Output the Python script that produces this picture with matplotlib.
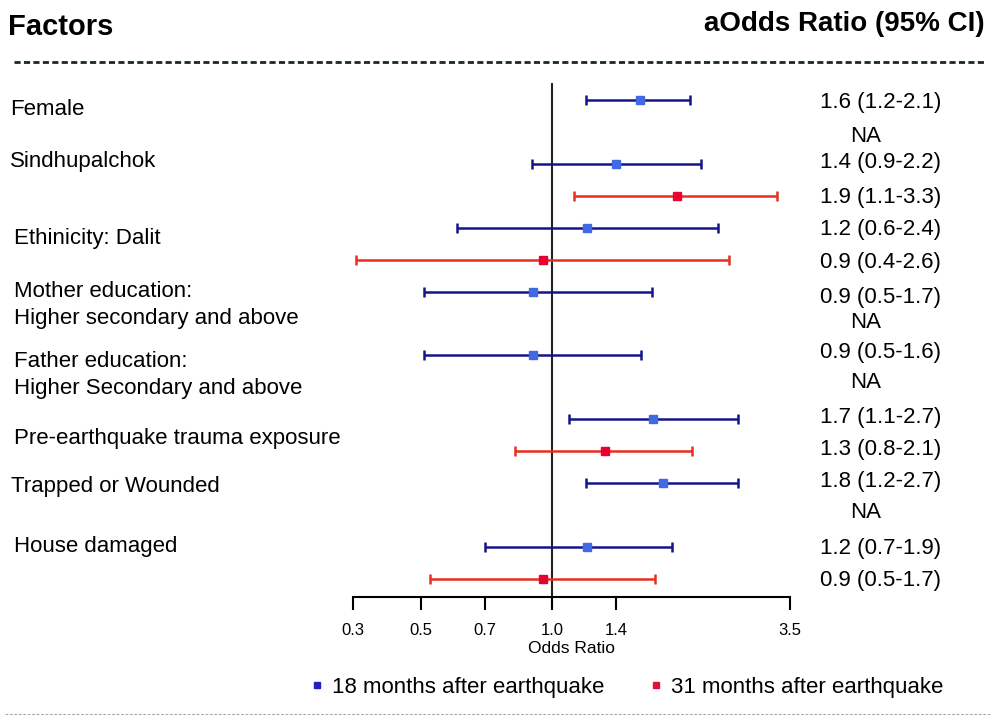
import numpy as np
import matplotlib.pyplot as plt
from matplotlib.lines import Line2D
from matplotlib.transforms import blended_transform_factory

plt.rcParams["font.family"] = ["Liberation Sans", "DejaVu Sans"]

# rows of the forest plot (18 months / 31 months after earthquake)
factors = ["Female", "Sindhupalchok", "Ethinicity: Dalit",
           "Mother education:\nHigher secondary and above",
           "Father education:\nHigher Secondary and above",
           "Pre-earthquake trauma exposure", "Trapped or Wounded", "House damaged"]

or_18 = [1.59, 1.40, 1.20, 0.905, 0.905, 1.70, 1.79, 1.20]
lo_18 = [1.195, 0.90, 0.605, 0.51, 0.51, 1.09, 1.195, 0.70]
hi_18 = [2.07, 2.19, 2.39, 1.69, 1.60, 2.66, 2.66, 1.88]

or_31 = [None, 1.93, 0.95, None, None, 1.32, None, 0.95]
lo_31 = [None, 1.12, 0.355, None, None, 0.82, None, 0.525]
hi_31 = [None, 3.27, 2.54, None, None, 2.09, None, 1.72]

ci_text = ["1.6 (1.2-2.1)", "NA", "1.4 (0.9-2.2)", "1.9 (1.1-3.3)",
           "1.2 (0.6-2.4)", "0.9 (0.4-2.6)", "0.9 (0.5-1.7)", "NA",
           "0.9 (0.5-1.6)", "NA", "1.7 (1.1-2.7)", "1.3 (0.8-2.1)",
           "1.8 (1.2-2.7)", "NA", "1.2 (0.7-1.9)", "0.9 (0.5-1.7)"]

x_ticks = [0.35, 0.5, 0.7, 1.0, 1.4, 3.5]

# layout (pixels of the 995x716 canvas)
W, H = 995, 716
factor_y = [0.30, 1.93, 4.33, 6.43, 8.6, 10.59, 12.1, 13.97]
factor_x = [10, 10, 14, 14, 14, 14, 11, 14]
ci_y = [0.08, 1.14, 1.96, 3.06, 4.06, 5.08, 6.18, 6.98, 7.91, 8.85, 9.95, 10.95,
        11.95, 12.92, 14.05, 15.05]

BLUE_LINE, BLUE_PT = "#15158a", "#4169e1"
RED_LINE, RED_PT = "#e8301e", "#e8002e"

fig = plt.figure(figsize=(W / 100, H / 100), dpi=100)
left, right, top, bottom = 353, 790, 83, 597
ax = fig.add_axes([left / W, (H - bottom) / H, (right - left) / W, (bottom - top) / H])

ax.set_xscale("log")
ax.set_xlim(0.35, 3.5)
ax.set_ylim(15.565, -0.532)

for i in range(len(factors)):
    y = 2 * i
    ax.errorbar(or_18[i], y, xerr=[[or_18[i] - lo_18[i]], [hi_18[i] - or_18[i]]],
                fmt="none", ecolor=BLUE_LINE, elinewidth=1.8, capsize=3.4, capthick=1.8)
    ax.plot(or_18[i], y, "s", color=BLUE_PT, ms=6.2, zorder=4)
    if or_31[i] is not None:
        ax.errorbar(or_31[i], y + 1, xerr=[[or_31[i] - lo_31[i]], [hi_31[i] - or_31[i]]],
                    fmt="none", ecolor=RED_LINE, elinewidth=1.8, capsize=3.4, capthick=1.8)
        ax.plot(or_31[i], y + 1, "s", color=RED_PT, ms=6.2, zorder=4)

ax.axvline(1.0, color="#222222", lw=1.5, zorder=1)

for s in ["top", "right", "left"]:
    ax.spines[s].set_visible(False)
ax.spines["bottom"].set_linewidth(1.5)
ax.set_yticks([])
ax.set_xticks(x_ticks)
ax.xaxis.set_minor_locator(plt.NullLocator())
ax.xaxis.set_major_formatter(plt.FuncFormatter(lambda v, p: "%.1f" % v))
ax.tick_params(axis="x", direction="out", length=9, width=1.5, pad=10, labelsize=12)
ax.set_xlabel("Odds Ratio", fontsize=12.5, labelpad=2)

trans = blended_transform_factory(fig.transFigure, ax.transData)
for name, y, x in zip(factors, factor_y, factor_x):
    ax.text(x / W, y, name, transform=trans, fontsize=16, va="center", ha="left",
            linespacing=1.38)

for txt, y in zip(ci_text, ci_y):
    x = 850 if txt == "NA" else 820
    ax.text(x / W, y, txt, transform=trans, fontsize=16, va="center", ha="left")

fig.text(8 / W, 1 - 27 / H, "Factors", fontsize=21, fontweight="bold", va="center")
fig.text(985 / W, 1 - 24 / H, "aOdds Ratio (95% CI)", fontsize=20, fontweight="bold",
         va="center", ha="right")

fig.add_artist(Line2D([14 / W, 985 / W], [1 - 62 / H] * 2, color="#1a2a1a", lw=2,
                      dashes=(2.2, 1.2)))
fig.add_artist(Line2D([5 / W, 990 / W], [1 - 714 / H] * 2, color="#aaaaaa", lw=0.8,
                      dashes=(2.5, 1.5)))

handles = [Line2D([], [], marker="s", ls="none", color="#2020c8", ms=5),
           Line2D([], [], marker="s", ls="none", color="#e0103a", ms=5)]
fig.legend(handles, ["18 months after earthquake", "31 months after earthquake"],
           loc="center", bbox_to_anchor=(627 / W, 1 - 687 / H), ncol=2, frameon=False,
           fontsize=16, handlelength=0.6, handletextpad=0.4, columnspacing=2.0)

fig.savefig("out.png", dpi=100)
